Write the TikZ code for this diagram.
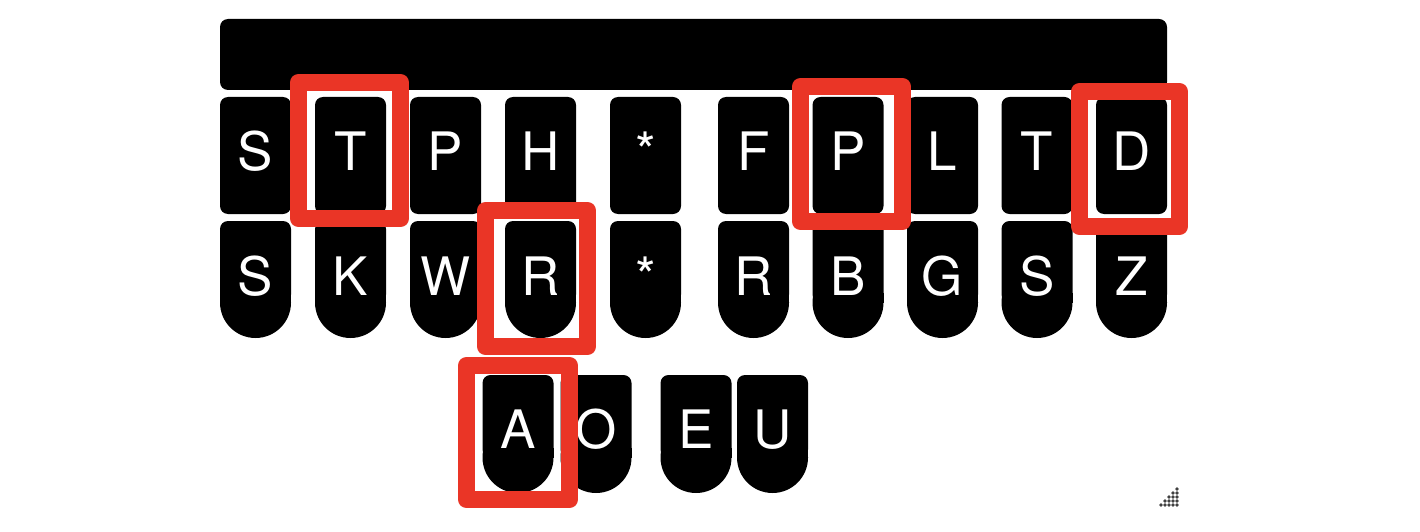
\documentclass[tikz,border=0pt]{standalone}
\usepackage{fontspec}
\setmainfont{TeX Gyre Heros}
\definecolor{hl}{RGB}{234,53,38}
\newcommand\roundkey[3]{%
  \fill[rounded corners=8] (#1,#2) rectangle ({#1+71},#3);
  \fill (#1,{#3-10}) rectangle ({#1+71},#3);
  \fill ({#1+35.5},#3) circle[radius=35.5];}
\begin{document}
\begin{tikzpicture}[x=1pt,y=-1pt,
  hlbox/.style={draw=hl,line width=17pt,line join=round},
  keylabel/.style={text=white,font=\fontsize{53}{60}\selectfont,inner sep=0pt,anchor=base}]
\fill[white] (0,0) rectangle (1420,532);
\useasboundingbox (0,0) rectangle (1420,532);
% number bar
\fill[rounded corners=8] (220,19) rectangle (1167,90);
% upper and lower rows
\foreach \x/\a/\b [count=\i] in {220/S/S, 315/T/K, 410/P/W, 505/H/R, 610/*/*, 718/F/R, 812.5/P/B, 907/L/G, 1001.5/T/S, 1096/D/Z} {
  \fill[rounded corners=8] (\x,97) rectangle ++(71,117);
  \roundkey{\x}{221}{302.5}
  \node[keylabel] (u\i) at (\x+35.5,170) {\a};
  \node[keylabel] (l\i) at (\x+35.5,295) {\b};
}
% vowel row
\foreach \x/\a [count=\i] in {482.5/A, 560.5/O, 660.5/E, 737/U} {
  \roundkey{\x}{375}{457.5}
  \node[keylabel] (v\i) at (\x+35.5,448) {\a};
}
% highlight boxes
\draw[hlbox] (298.5,82.5) rectangle (400.5,218.5);
\draw[hlbox] (485.5,210.5) rectangle (587.5,346.5);
\draw[hlbox] (800.5,86.5) rectangle (902.5,221.5);
\draw[hlbox] (1079.5,91.5) rectangle (1179.5,226.5);
\draw[hlbox] (466.5,365.5) rectangle (569.5,499.5);
% resize grip
\foreach \px/\py in {1161/505,1165/505,1169/505,1173/505,1177/505,
                     1165/501,1169/501,1173/501,1177/501,
                     1169/497,1173/497,1177/497,
                     1173/493,1177/493,
                     1177/489}
  \fill[black!75] (\px,\py) circle[radius=1.9];
\end{tikzpicture}
\end{document}
